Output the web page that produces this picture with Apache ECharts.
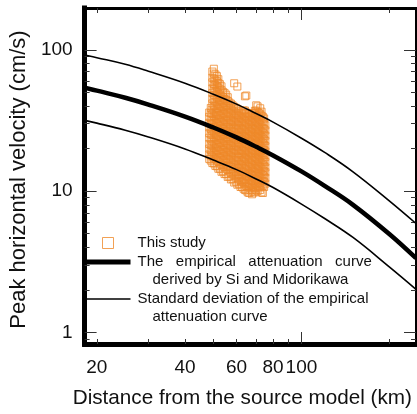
<!DOCTYPE html>
<html><head><meta charset="utf-8">
<script src="https://cdn.jsdelivr.net/npm/echarts@6/dist/echarts.min.js"></script>
<style>html,body{margin:0;padding:0;background:#fff}#c{width:417px;height:414px}</style>
</head><body><div id="c"></div>
<script>
// ---- data ----
const curveDistance = [18.16, 20, 25, 30, 40, 50, 60, 70, 80, 100, 120, 150, 200, 246.2];
const meanPGV  = [54, 51.4, 45.8, 41.0, 33.7, 28.2, 24.0, 20.6, 17.9, 13.8, 10.9, 8.0, 4.95, 3.35];
const upperPGV = [92, 88, 79, 70.5, 58, 48.5, 41.3, 35.4, 30.8, 23.7, 18.8, 13.7, 8.5, 5.9];
const lowerPGV = [31.7, 30.3, 27, 24.2, 19.9, 16.6, 14.2, 12.2, 10.6, 8.1, 6.4, 4.7, 2.9, 2.02];

const studyColumnKm = [48.4, 49.6, 50.8, 52.0, 53.3, 54.6, 56.0, 57.4, 58.9, 60.4, 61.9, 63.4, 64.8, 66.3, 67.8, 69.3, 70.8, 72.3, 73.8, 75.3];
const studyPGVByColumn = [
  [16.9, 18.2, 20.0, 21.6, 23.9, 25.7, 28.3, 30.5, 33.6, 36.0],
  [15.8, 17.6, 19.0, 20.9, 22.5, 24.9, 26.7, 29.6, 31.8, 35.1, 37.8, 41.8, 45.0, 49.6, 53.4, 58.9, 63.5, 70.2],
  [15.1, 16.9, 18.2, 20.1, 21.5, 23.9, 25.6, 28.3, 30.5, 33.7, 36.2, 40.0, 43.0, 47.5, 51.2, 56.5, 60.8, 67.0],
  [14.4, 16.2, 17.4, 19.3, 20.6, 22.9, 24.5, 27.1, 29.2, 32.3, 34.6, 38.3, 41.2, 45.5, 49.0, 54.0, 58.2, 62.0],
  [13.7, 15.4, 16.7, 18.4, 19.8, 21.9, 23.5, 26.0, 27.9, 30.9, 33.2, 36.7, 39.5, 43.6, 47.0, 51.8, 55.2],
  [13.2, 14.8, 16.0, 17.7, 19.0, 21.0, 22.6, 24.9, 26.8, 29.6, 31.9, 35.2, 37.8, 41.8, 45.0, 49.6],
  [12.6, 14.2, 15.2, 16.9, 18.2, 20.1, 21.6, 23.9, 25.7, 28.3, 30.6, 33.6, 36.3, 40.0, 43.5, 46.2],
  [12.1, 13.4, 14.8, 16.0, 17.6, 19.0, 20.9, 22.6, 24.8, 26.8, 29.5, 31.8, 35.0, 37.9, 41.6],
  [11.5, 12.9, 14.0, 15.4, 16.7, 18.4, 19.8, 21.9, 23.6, 26.0, 28.0, 30.9, 33.3, 36.6, 39.5, 58.0],
  [11.1, 12.3, 13.6, 14.6, 16.2, 17.4, 19.2, 20.7, 22.8, 24.6, 27.0, 29.3, 32.1, 34.8, 38.2, 55.0],
  [10.7, 11.8, 13.0, 14.0, 15.4, 16.7, 18.4, 19.8, 21.8, 23.6, 25.9, 28.0, 30.8, 33.3, 36.6],
  [10.4, 11.5, 12.3, 13.6, 14.6, 16.2, 17.4, 19.2, 20.7, 22.8, 24.6, 27.0, 29.3, 32.2, 35.0, 37.2],
  [10.1, 10.9, 12.0, 12.8, 14.2, 15.2, 16.9, 18.2, 20.0, 21.6, 23.8, 25.7, 28.2, 30.6, 33.5, 36.0, 47.5],
  [9.7, 10.6, 11.3, 12.5, 13.4, 14.8, 16.0, 17.6, 19.0, 20.9, 22.6, 24.8, 26.8, 29.5, 31.9, 35.0],
  [9.5, 10.1, 11.1, 11.8, 13.0, 14.0, 15.4, 16.7, 18.4, 19.8, 21.8, 23.6, 25.9, 28.0, 30.8, 33.3, 35.5],
  [9.8, 10.5, 11.5, 12.3, 13.6, 14.6, 16.2, 17.4, 19.2, 20.7, 22.8, 24.6, 27.0, 29.3, 32.2, 34.7, 37.0],
  [10.0, 10.9, 12.0, 12.8, 14.2, 15.2, 16.9, 18.2, 20.0, 21.6, 23.8, 25.7, 28.2, 30.6, 33.5, 36.2, 39.8],
  [10.2, 10.6, 11.4, 12.5, 13.4, 14.8, 16.0, 17.6, 19.0, 20.9, 22.6, 24.8, 26.8, 29.5, 31.9, 35.0, 38.6],
  [9.7, 11.0, 11.8, 13.0, 14.0, 15.4, 16.7, 18.4, 19.8, 21.8, 23.6, 25.9, 28.0, 30.8, 33.6],
  [11.3, 12.4, 13.6, 14.7, 16.1, 17.5, 19.1, 20.8, 22.7, 24.7, 26.9, 29.2]
];
const studyColumnKm2 = [49.0, 50.2, 51.4, 52.65, 53.95, 55.3, 56.7, 58.15, 59.65, 61.15, 62.65, 64.1, 65.55, 67.05, 68.55, 70.05, 71.55, 73.05, 74.55];
const studyPGVByColumn2 = [
  [16.45, 17.9, 19.5, 21.25, 23.2, 25.25, 27.5, 30.0, 32.7, 35.7, 38.8],
  [15.7, 17.2, 18.65, 20.4, 22.2, 24.2, 26.3, 28.7, 31.3, 34.1, 37.2, 40.5, 44.2, 48.2, 52.6, 57.2, 62.4, 68.0, 73.5],
  [15.0, 16.45, 17.9, 19.5, 21.25, 23.2, 25.25, 27.5, 30.0, 32.7, 35.7, 38.8, 42.4, 46.2, 50.4, 54.9, 59.8, 65.2],
  [14.4, 15.7, 17.2, 18.65, 20.4, 22.2, 24.2, 26.3, 28.7, 31.3, 34.1, 37.2, 40.5, 44.2, 48.2, 52.6, 57.2],
  [13.8, 15.0, 16.45, 17.9, 19.5, 21.25, 23.2, 25.25, 27.5, 30.0, 32.7, 35.7, 38.8, 42.4, 46.2, 50.4],
  [13.2, 14.4, 15.7, 17.2, 18.65, 20.4, 22.2, 24.2, 26.3, 28.7, 31.3, 34.1, 37.2, 40.5, 44.2, 48.2],
  [12.7, 13.8, 15.0, 16.45, 17.9, 19.5, 21.25, 23.2, 25.25, 27.5, 30.0, 32.7, 35.7, 38.8, 42.4],
  [12.15, 13.2, 14.4, 15.7, 17.2, 18.65, 20.4, 22.2, 24.2, 26.3, 28.7, 31.3, 34.1, 37.2, 40.5],
  [11.65, 12.7, 13.8, 15.0, 16.45, 17.9, 19.5, 21.25, 23.2, 25.25, 27.5, 30.0, 32.7, 35.7, 38.8],
  [11.2, 12.15, 13.2, 14.4, 15.7, 17.2, 18.65, 20.4, 22.2, 24.2, 26.3, 28.7, 31.3, 34.1, 37.2],
  [10.7, 11.65, 12.7, 13.8, 15.0, 16.45, 17.9, 19.5, 21.25, 23.2, 25.25, 27.5, 30.0, 32.7, 35.7],
  [10.2, 11.2, 12.15, 13.2, 14.4, 15.7, 17.2, 18.65, 20.4, 22.2, 24.2, 26.3, 28.7, 31.3, 34.1, 37.2, 46.9],
  [9.8, 10.7, 11.65, 12.7, 13.8, 15.0, 16.45, 17.9, 19.5, 21.25, 23.2, 25.25, 27.5, 30.0, 32.7, 35.7],
  [10.2, 11.2, 12.15, 13.2, 14.4, 15.7, 17.2, 18.65, 20.4, 22.2, 24.2, 26.3, 28.7, 31.3, 34.1],
  [9.8, 10.7, 11.65, 12.7, 13.8, 15.0, 16.45, 17.9, 19.5, 21.25, 23.2, 25.25, 27.5, 30.0, 32.7, 35.7],
  [10.2, 11.2, 12.15, 13.2, 14.4, 15.7, 17.2, 18.65, 20.4, 22.2, 24.2, 26.3, 28.7, 31.3, 34.1, 37.2, 40.5],
  [10.7, 11.65, 12.7, 13.8, 15.0, 16.45, 17.9, 19.5, 21.25, 23.2, 25.25, 27.5, 30.0, 32.7, 35.7],
  [9.8, 11.2, 12.15, 13.2, 14.4, 15.7, 17.2, 18.65, 20.4, 22.2, 24.2, 26.3, 28.7, 31.3, 34.1, 36.5],
  [10.7, 11.65, 12.7, 13.8, 15.0, 16.45, 17.9, 19.5, 21.25, 23.2, 25.25, 27.5, 30.0, 32.7]
];

const xMinorTicks = [20, 30, 40, 50, 60, 70, 80, 90, 200];
const xMajorTicks = [100];
const xLabelValues = [20, 40, 60, 80, 100];
const xTickLabels = ['20', '40', '60', '80', '100'];
const yMinorTicks = [0.9, 2, 3, 4, 5, 6, 7, 8, 9, 20, 30, 40, 50, 60, 70, 80, 90];
const yMajorTicks = [1, 10, 100];
const yLabelValues = [1, 10, 100];
const yTickLabels = ['1', '10', '100'];

const seriesNames = [
  'This study',
  'The empirical attenuation curve derived by Si and Midorikawa',
  'Standard deviation of the empirical attenuation curve'
];
const legendLines = {
  'The empirical attenuation curve derived by Si and Midorikawa': ['The   empirical   attenuation   curve', 'derived by Si and Midorikawa'],
  'Standard deviation of the empirical attenuation curve': ['Standard deviation of the empirical', 'attenuation curve']
};

// ---- chart ----
const FONT = 'Liberation Sans, Arial, sans-serif';
const ORANGE = '#EF8A2B';
const X_MIN = 18.16, X_MAX = 246.2, Y_MIN = 0.828, Y_MAX = 197.8;

const studyData = [];
studyColumnKm.forEach((km, i) => studyPGVByColumn[i].forEach(v => studyData.push([km, v])));
studyColumnKm2.forEach((km, i) => studyPGVByColumn2[i].forEach(v => studyData.push([km, v])));
const pairs = arr => curveDistance.map((d, i) => [d, arr[i]]);

function labelFor(values, labels) {
  return v => {
    for (let i = 0; i < values.length; i++) if (Math.abs(v - values[i]) / values[i] < 1e-3) return labels[i];
    return '';
  };
}

// an axis that only draws its line (and optionally labels / name)
function baseAxis(kind, position, lineWidth, extra) {
  return Object.assign({
    type: 'log', logBase: 10,
    min: kind === 'x' ? X_MIN : Y_MIN, max: kind === 'x' ? X_MAX : Y_MAX,
    position: position, gridIndex: 0,
    axisLine: { show: true, lineStyle: { color: '#000', width: lineWidth, cap: 'square' } },
    axisTick: { show: false },
    axisLabel: { show: false },
    splitLine: { show: false }, minorTick: { show: false }, minorSplitLine: { show: false }
  }, extra || {});
}
// an axis that only draws inside ticks at given values
function tickAxis(kind, position, ticks, len) {
  return {
    type: 'log', logBase: 10,
    min: kind === 'x' ? X_MIN : Y_MIN, max: kind === 'x' ? X_MAX : Y_MAX,
    position: position, gridIndex: 0,
    axisLine: { show: false },
    axisTick: { show: true, inside: true, length: len, customValues: ticks.slice(), lineStyle: { color: '#333', width: 1 } },
    axisLabel: { show: false },
    splitLine: { show: false }, minorTick: { show: false }, minorSplitLine: { show: false }
  };
}

const chart = echarts.init(document.getElementById('c'), null, { renderer: 'canvas' });
chart.setOption({
  animation: false,
  backgroundColor: '#fff',
  grid: { left: 77.5, right: 1, top: 8, bottom: 69, containLabel: false },
  xAxis: [
    baseAxis('x', 'bottom', 5, {
      axisLabel: { show: true, customValues: xLabelValues.slice(), formatter: labelFor(xLabelValues, xTickLabels),
        fontFamily: FONT, fontSize: 19, color: '#111', margin: 14 },
      name: 'Distance from the source model (km)', nameLocation: 'middle', nameGap: 44,
      nameTextStyle: { fontFamily: FONT, fontSize: 20.7, color: '#111', padding: [0, 16, 0, 0] }
    }),
    tickAxis('x', 'bottom', xMinorTicks, 5),
    tickAxis('x', 'bottom', xMajorTicks, 12),
    baseAxis('x', 'top', 3),
    tickAxis('x', 'top', xMinorTicks, 5),
    tickAxis('x', 'top', xMajorTicks, 12)
  ],
  yAxis: [
    baseAxis('y', 'left', 5, {
      axisLabel: { show: true, customValues: yLabelValues.slice(), formatter: labelFor(yLabelValues, yTickLabels),
        fontFamily: FONT, fontSize: 19, color: '#111', margin: 12 },
      name: 'Peak horizontal velocity (cm/s)', nameLocation: 'middle', nameGap: 47, nameRotate: 90,
      nameTextStyle: { fontFamily: FONT, fontSize: 22, color: '#111', padding: [0, 7, 0, 0] }
    }),
    tickAxis('y', 'left', yMinorTicks, 5),
    tickAxis('y', 'left', yMajorTicks, 12),
    baseAxis('y', 'right', 2),
    tickAxis('y', 'right', yMinorTicks, 5),
    tickAxis('y', 'right', yMajorTicks, 12)
  ],
  legend: {
    orient: 'vertical', left: 83, top: 234, padding: 0, itemGap: -17,
    itemWidth: 45, itemHeight: 11, selectedMode: false,
    textStyle: { fontFamily: FONT, fontSize: 15, color: '#111', lineHeight: 18,
      rich: {
        a: { fontFamily: FONT, fontSize: 15, color: '#111', lineHeight: 18 },
        b: { fontFamily: FONT, fontSize: 15, color: '#111', lineHeight: 18, padding: [0, 0, 0, 15] }
      } },
    formatter: name => legendLines[name] ? '{a|' + legendLines[name][0] + '}\n{b|' + legendLines[name][1] + '}' : name,
    data: [
      { name: seriesNames[0], icon: 'path://M0,0H10V10H0Z',
        itemStyle: { color: 'rgba(0,0,0,0)', borderColor: ORANGE, borderWidth: 1 },
        textStyle: { padding: [0, 0, 0, 2] } },
      { name: seriesNames[1], textStyle: { padding: [18, 0, 0, 2] },
        lineStyle: { color: '#000', width: 5 },
        itemStyle: { color: 'rgba(0,0,0,0)', borderColor: 'rgba(0,0,0,0)', borderWidth: 0 } },
      { name: seriesNames[2], textStyle: { padding: [18, 0, 0, 2] },
        lineStyle: { color: '#000', width: 1.6 },
        itemStyle: { color: 'rgba(0,0,0,0)', borderColor: 'rgba(0,0,0,0)', borderWidth: 0 } }
    ]
  },
  series: [
    { name: seriesNames[0], type: 'scatter', xAxisIndex: 0, yAxisIndex: 0, data: studyData,
      symbol: 'rect', symbolSize: 7, z: 2,
      itemStyle: { color: 'rgba(0,0,0,0)', borderColor: ORANGE, borderWidth: 1 } },
    { name: seriesNames[1], type: 'line', xAxisIndex: 0, yAxisIndex: 0, data: pairs(meanPGV),
      smooth: 0.4, symbol: 'none', z: 4, lineStyle: { color: '#000', width: 4.5 } },
    { name: seriesNames[2], type: 'line', xAxisIndex: 0, yAxisIndex: 0, data: pairs(upperPGV),
      smooth: 0.4, symbol: 'none', z: 3, lineStyle: { color: '#000', width: 1.6 } },
    { name: seriesNames[2], type: 'line', xAxisIndex: 0, yAxisIndex: 0, data: pairs(lowerPGV),
      smooth: 0.4, symbol: 'none', z: 3, lineStyle: { color: '#000', width: 1.6 } }
  ]
});
</script>
</body></html>
